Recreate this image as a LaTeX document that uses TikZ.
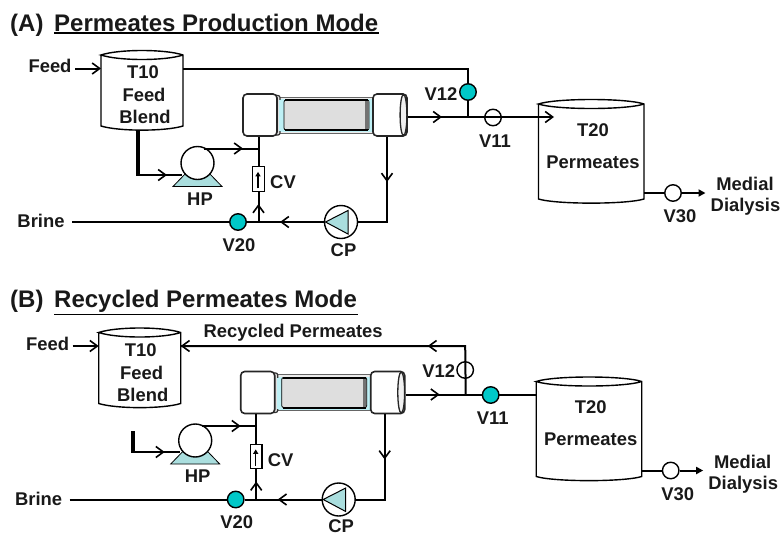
\documentclass[tikz,border=0pt]{standalone}
\usepackage{fontspec}
\setmainfont{Liberation Sans}
\usetikzlibrary{arrows.meta,calc}
\definecolor{vteal}{RGB}{0,200,200}
\definecolor{ltteal}{RGB}{170,222,222}
\definecolor{ringc}{RGB}{190,240,245}
\definecolor{coreg}{RGB}{222,222,222}
\tikzset{
  x=1pt,y=-1pt,
  lbl/.style={inner sep=0pt,font=\fontsize{18.4}{20}\selectfont\bfseries,text=black!90},
  ttl/.style={inner sep=0pt,anchor=base west,font=\fontsize{24}{26}\selectfont\bfseries,text=black!90},
  pipe/.style={draw=black,line width=2pt},
  thick pipe/.style={draw=black,line width=4pt},
  barb/.style={pipe,-{Straight Barb[length=7.5pt,width=11pt,line width=1.6pt]}},
  solidtip/.style={pipe,-{Triangle[length=7pt,width=7pt]}},
  openv/.style={circle,draw=black,line width=1.4pt,fill=white,minimum size=16.5pt,inner sep=0pt},
  tealv/.style={openv,fill=vteal},
  pumpc/.style={circle,draw=black,line width=1.4pt,fill=white,minimum size=33pt,inner sep=0pt},
  tankbody/.style={inner sep=0pt,outer sep=0pt},
  capbox/.style={draw=black!85,line width=1.6pt,fill=white,rounded corners=4pt,inner sep=0pt,minimum height=42pt},
}
% name, centre x, left, right, ellipse centre y, bottom y
\newcommand{\drawtank}[6]{%
  \node[tankbody,minimum width=#4pt-#3pt,minimum height=#6pt-#5pt] (#1) at (#2,{(#5+#6)/2}) {};
  \draw[black,line width=1.4pt,fill=white] (#3,#5) -- (#3,#6)
     .. controls (#3+18,#6+5.5) and (#4-18,#6+5.5) .. (#4,#6) -- (#4,#5)
     .. controls (#4-18,#5-6) and (#3+18,#5-6) .. (#3,#5)
     .. controls (#3+18,#5+6) and (#4-18,#5+6) .. (#4,#5);
}
\newcommand{\commonparts}[1]{%
  \drawtank{t10}{142}{101}{183}{55}{126}
  \drawtank{t20}{591}{538.5}{644}{104}{199}
  % membrane module
  \draw[black!60,line width=1pt,fill=black!8] (275,97) rectangle (375,133);
  \fill[ringc] (275,99) rectangle (375,132);
  \draw[black!80,line width=1.2pt,fill=black!12,rounded corners=2pt] (274,95.5) rectangle (280,135);
  \fill[ringc] (279,100) rectangle (287,131);
  \fill[coreg] (284,100) rectangle (369,130);
  \draw[black,line width=.8pt,rounded corners=2pt] (284,100) rectangle (369,130);
  \draw[black,line width=2pt] (285,100) -- (368,100) (285,130) -- (368,130);
  \fill[black!55] (365,101) rectangle (368.5,129);
  \node[capbox,minimum width=34pt] (capL) at (260,115) {};
  \node[capbox,minimum width=34pt] (capR) at (390,115) {};
  \draw[black!85,line width=1.3pt,fill=black!6] (403.5,115) ellipse [x radius=3.4,y radius=20.5];
  % pumps
  \draw[black,line width=.8pt,fill=ltteal] (173,186.5) -- (222,186.5) -- (208,172) -- (187,172) -- cycle;
  \node[pumpc] (hp) at (197.5,163) {};
  \node[pumpc] (cp) at (341,222) {};
  \draw[black,line width=1pt,fill=ltteal] (325.5,222) -- (348,210.5) -- (348,234) -- cycle;
  % check valve
  \node[draw=black,line width=1.2pt,fill=white,minimum width=11.5pt,minimum height=24.5pt,inner sep=0pt] (cv) at (258.5,179) {};
  \draw[line width=1.2pt,-{Triangle[length=4.5pt,width=5pt]}] (cv.south) ++(-.5,-3.5) -- ++(0,-16.5);
  % valves and junctions
  \node[tealv] (v20) at (238,222) {};
  \node[openv] (v30) at (673,193) {};
  \coordinate (jb) at (cv.south |- v20);
  \coordinate (elbow) at (387,222);
  \coordinate (jt) at (258.5,148.5);
  \coordinate (hpout) at (204,148.5);
  \coordinate (brinein) at (72,222);
  \coordinate (jo) at (468,117);
  \coordinate (jtop) at (capL.south -| cv);
  \coordinate (rout) at (capR.south -| elbow);
  % connectors
  \draw[pipe] (brinein) -- (v20);
  \draw[pipe] (v20) -- (jb);
  \draw[pipe] (jb) -- (cv.south);
  \draw[barb] (jb) -- (258.5,204);
  \draw[pipe] (cv.north) -- (jtop);
  \draw[pipe] (hpout) -- (jt);
  \draw[barb] (hpout) -- (243,148.5);
  \draw[pipe,line join=miter] (cp.east) -- (elbow) -- (rout);
  \draw[barb] (rout) -- (387,182);
  \draw[pipe] (cp.west) -- (jb);
  \draw[barb] (cp.west) -- (280,222);
  \draw[pipe] (t20.east |- v30) -- (v30);
  \draw[solidtip] (v30) -- (705.5,193);
  \draw[pipe] (capR.east |- jo) -- (jo);
  \draw[barb] (capR.east |- jo) -- (442,117);
  % labels
  \node[lbl] (l-t10a) at (143,72.5) {T10};
  \node[lbl] (l-t10b) at (144,95) {Feed};
  \node[lbl] (l-t10c) at (145,117) {Blend};
  \node[lbl] (l-t20) at (593,130) {T20};
  \node[lbl] (l-per) at (593,162) {Permeates};
  \node[lbl] (l-hp) at (200,199) {HP};
  \node[lbl] (l-cv) at (283,182.5) {CV};
  \node[lbl] (l-brine) at (41,221) {Brine};
  \node[lbl] (l-v20) at (239,245) {V20};
  \node[lbl] (l-cp) at (343.5,#1) {CP};
  \node[lbl] (l-v12) at (441,94) {V12};
  \node[lbl] (l-v11) at (495,141) {V11};
  \node[lbl] (l-v30) at (680,216.5) {V30};
  \node[lbl] (l-med) at (745,184) {Medial};
  \node[lbl] (l-dia) at (745.5,207) {Dialysis};
  \node[lbl] (l-feed) at (50,66) {Feed};
  \coordinate (feedin) at (75,68.5);
  \coordinate (tankfeed) at (183,68.5);
}
\begin{document}
\begin{tikzpicture}
\useasboundingbox (0,0) rectangle (781,533);
\node[ttl] (ta) at (10,31) {(A)};
\node[ttl] (ta2) at (54,31) {Permeates Production Mode};
\draw[line width=1.6pt] (54,33) -- (379,33);
\begin{scope}[name prefix=a-]
  \node[openv] (v11) at (493,117.5) {};
  \commonparts{250}
  \coordinate (top) at (468,68.5);
  \draw[barb] (feedin) -- (feedin -| t10.west);
  \draw[pipe] (tankfeed) -- (top) -- (468,117);
  \node[tealv] (v12) at (468,92) {};
  \draw[barb] (jo) -- (554,117);
  \draw[thick pipe] (138,130) -- (138,175);
  \draw[pipe] (136,175) -- (182,175);
  \draw[barb] (136,175) -- (167,175);
\end{scope}
\node[ttl] (tb) at (10,307.5) {(B)};
\node[ttl] (tb2) at (54,307.5) {Recycled Permeates Mode};
\draw[line width=1.6pt] (54,314.5) -- (358,314.5);
\begin{scope}[shift={(-2.3,277.5)},name prefix=b-]
  \node[openv] (v12) at (467.5,92.5) {};
  \commonparts{248.4}
  \coordinate (top) at (467.5,68.5);
  \draw[barb] (feedin) -- (feedin -| t10.west);
  \draw[pipe] (jo) -- (top) -- (tankfeed);
  \draw[barb] (top) -- (430,68.5);
  \draw[barb] (205,68.5) -- (tankfeed);
  \draw[pipe] (jo) -- (t20.west |- jo);
  \node[tealv] (v11) at (493,117.5) {};
  \node[lbl] (l-rec) at (295.5,54.8) {Recycled Permeates};
  \draw[thick pipe] (135.5,153.5) -- (135.5,175);
  \draw[pipe] (134,174.5) -- (182,174.5);
  \draw[barb] (134,174.5) -- (167,174.5);
\end{scope}
\end{tikzpicture}
\end{document}
